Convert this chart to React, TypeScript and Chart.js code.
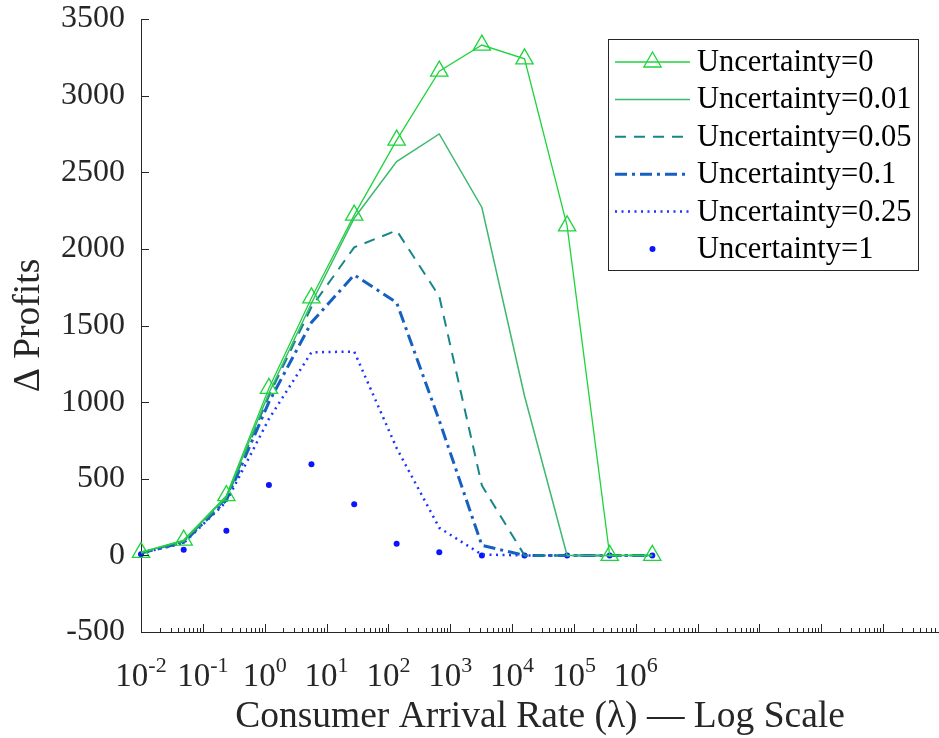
import React, { useEffect, useRef } from 'react';
import { Chart, registerables } from 'chart.js';

Chart.register(...registerables);

// ---- data ----
const lambdaValues = [0.01, 0.049, 0.24, 1.17, 5.7, 28, 136, 665, 3250, 15900, 77600, 379000, 1850000];
const profitsU0 = [20, 100, 390, 1090, 1680, 2220, 2710, 3160, 3330, 3240, 2150, 0, 0];
const profitsU001 = [20, 95, 380, 1060, 1645, 2200, 2570, 2750, 2270, 1040, 0, 0, 0];
const profitsU005 = [15, 90, 370, 1040, 1620, 2010, 2120, 1690, 456, 0, 0, 0, 0];
const profitsU01 = [15, 85, 360, 1000, 1520, 1830, 1650, 880, 65, 0, 0, 0, 0];
const profitsU025 = [15, 80, 350, 890, 1325, 1330, 700, 180, 5, 0, 0, 0, 0];
const profitsU1 = [8, 37, 161, 460, 595, 333, 76, 20, 0, 0, 0, 0, 0];

const seriesLabels = [
  'Uncertainty=0',
  'Uncertainty=0.01',
  'Uncertainty=0.05',
  'Uncertainty=0.1',
  'Uncertainty=0.25',
  'Uncertainty=1',
];
const xTickExponents = [-2, -1, 0, 1, 2, 3, 4, 5, 6];
const yMin = -500;
const yMax = 3500;
const yStep = 500;
const xMin = 0.01;
const xMax = 8e10;
const xTitle = 'Consumer Arrival Rate (\u03bb) \u2014 Log Scale';
const yTitle = '\u0394 Profits';

const SERIF = "'Liberation Serif', 'Times New Roman', serif";
const AXIS_COLOR = '#262626';

const styles = [
  { color: '#1ed43c', width: 1.3, dash: [] as number[], point: 'triangle', radius: 10, showLine: true },
  { color: '#3cb96e', width: 1.5, dash: [], point: false, radius: 0, showLine: true },
  { color: '#17868a', width: 2, dash: [11, 8], point: false, radius: 0, showLine: true },
  { color: '#1560c0', width: 3, dash: [12, 5, 3, 5], point: false, radius: 0, showLine: true },
  { color: '#1a35ff', width: 2.5, dash: [2, 4.5], point: false, radius: 0, showLine: true },
  { color: '#0a14ff', width: 1, dash: [], point: 'circle', radius: 3, showLine: false },
];

const seriesValues = [profitsU0, profitsU001, profitsU005, profitsU01, profitsU025, profitsU1];

const decorPlugin = {
  id: 'decor',
  afterDraw(chart: any) {
    const { ctx, chartArea, scales } = chart;
    const xs = scales.x;
    const ys = scales.y;
    ctx.save();
    // inward tick marks
    ctx.strokeStyle = AXIS_COLOR;
    ctx.lineWidth = 1;
    ctx.setLineDash([]);
    ctx.beginPath();
    ys.ticks.forEach((t: any) => {
      const y = Math.round(ys.getPixelForValue(t.value)) + 0.5;
      ctx.moveTo(chartArea.left, y);
      ctx.lineTo(chartArea.left + 8, y);
    });
    xs.ticks.forEach((t: any) => {
      const x = Math.round(xs.getPixelForValue(t.value)) + 0.5;
      const len = t.major ? 8 : 4;
      ctx.moveTo(x, chartArea.bottom);
      ctx.lineTo(x, chartArea.bottom - len);
    });
    ctx.stroke();

    // x tick labels 10^n
    const baseFont = `33px ${SERIF}`;
    const supFont = `22px ${SERIF}`;
    ctx.fillStyle = AXIS_COLOR;
    ctx.textAlign = 'left';
    ctx.textBaseline = 'alphabetic';
    xTickExponents.forEach((e) => {
      const x = xs.getPixelForValue(Math.pow(10, e));
      ctx.font = baseFont;
      const wb = ctx.measureText('10').width;
      ctx.font = supFont;
      const es = String(e);
      const ws = ctx.measureText(es).width;
      const start = x - (wb + ws) / 2;
      ctx.font = baseFont;
      ctx.fillText('10', start, chartArea.bottom + 54);
      ctx.font = supFont;
      ctx.fillText(es, start + wb, chartArea.bottom + 40);
    });

    // legend
    const bx = chartArea.right - 331;
    const by = 39;
    const bw = 310;
    const bh = 231;
    ctx.fillStyle = '#ffffff';
    ctx.fillRect(bx, by, bw, bh);
    ctx.strokeStyle = AXIS_COLOR;
    ctx.lineWidth = 1;
    ctx.strokeRect(bx + 0.5, by + 0.5, bw, bh);
    chart.data.datasets.forEach((ds: any, i: number) => {
      const st = styles[i];
      const ry = by + 23 + i * 37.4;
      const x0 = bx + 7;
      const x1 = bx + 82;
      const xm = (x0 + x1) / 2;
      if (st.showLine) {
        ctx.save();
        ctx.strokeStyle = st.color;
        ctx.lineWidth = st.width;
        ctx.setLineDash(st.dash);
        ctx.beginPath();
        ctx.moveTo(x0, ry);
        ctx.lineTo(x1, ry);
        ctx.stroke();
        ctx.restore();
      }
      if (st.point === 'triangle') {
        ctx.save();
        ctx.strokeStyle = st.color;
        ctx.lineWidth = 1.3;
        ctx.beginPath();
        const r = st.radius;
        for (let k = 0; k < 3; k++) {
          const a = (k * 2 * Math.PI) / 3;
          const px = xm + Math.sin(a) * r;
          const py = ry - Math.cos(a) * r;
          if (k === 0) ctx.moveTo(px, py);
          else ctx.lineTo(px, py);
        }
        ctx.closePath();
        ctx.stroke();
        ctx.restore();
      } else if (st.point === 'circle') {
        ctx.fillStyle = st.color;
        ctx.beginPath();
        ctx.arc(xm, ry, st.radius, 0, Math.PI * 2);
        ctx.fill();
      }
      ctx.fillStyle = '#000000';
      ctx.font = `30.5px ${SERIF}`;
      ctx.textAlign = 'left';
      ctx.textBaseline = 'middle';
      ctx.fillText(ds.label, bx + 89, ry + 1);
    });
    ctx.restore();
  },
};

export default function App() {
  const canvasRef = useRef<HTMLCanvasElement | null>(null);

  useEffect(() => {
    const canvas = canvasRef.current;
    if (!canvas) return;
    const datasets = seriesValues.map((vals, i) => {
      const st = styles[i];
      return {
        label: seriesLabels[i],
        data: lambdaValues.map((x, j) => ({ x, y: vals[j] })),
        borderColor: st.color,
        backgroundColor: st.point === 'circle' ? st.color : 'rgba(0,0,0,0)',
        borderWidth: st.width,
        borderDash: st.dash,
        showLine: st.showLine,
        pointStyle: st.point || 'circle',
        pointRadius: st.radius,
        pointBorderWidth: st.point === 'triangle' ? 1.3 : 0,
        pointBorderColor: st.color,
        pointBackgroundColor: st.point === 'circle' ? st.color : 'rgba(0,0,0,0)',
        tension: 0,
        clip: false as any,
        fill: false,
      };
    });

    const chart = new Chart(canvas, {
      type: 'line',
      data: { datasets },
      options: {
        responsive: false,
        animation: false,
        layout: { autoPadding: false, padding: { left: 0, right: 0, top: 19, bottom: 0 } },
        plugins: {
          legend: { display: false },
          tooltip: { enabled: false },
        },
        scales: {
          x: {
            type: 'logarithmic',
            min: xMin,
            max: xMax,
            grid: { display: false },
            border: { display: true, color: AXIS_COLOR, width: 1 },
            ticks: { display: false },
            afterBuildTicks: (scale: any) => {
              const ticks: any[] = [];
              for (let e = -2; e <= 11; e++) {
                for (let k = 1; k <= 9; k++) {
                  const v = k * Math.pow(10, e);
                  if (v >= scale.min * 0.999 && v <= scale.max) ticks.push({ value: v, major: k === 1 });
                }
              }
              scale.ticks = ticks;
            },
            afterFit: (scale: any) => {
              scale.height = 106;
              scale.paddingLeft = 0;
              scale.paddingRight = 0;
            },
            title: {
              display: true,
              text: xTitle,
              color: AXIS_COLOR,
              font: { family: SERIF, size: 37.5, lineHeight: 1 },
              padding: { top: 0, bottom: 2 },
            },
          },
          y: {
            type: 'linear',
            min: yMin,
            max: yMax,
            grid: { display: false, drawTicks: false },
            border: { display: true, color: AXIS_COLOR, width: 1 },
            ticks: {
              stepSize: yStep,
              color: AXIS_COLOR,
              padding: 16,
              font: { family: SERIF, size: 32 },
              callback: (v: any) => String(v),
            },
            afterFit: (scale: any) => {
              scale.width = 141;
              scale.paddingTop = 0;
              scale.paddingBottom = 0;
            },
            title: {
              display: true,
              text: yTitle,
              color: AXIS_COLOR,
              font: { family: SERIF, size: 37.5, lineHeight: 1.2 },
              padding: { top: 7, bottom: 0 },
            },
          },
        },
      },
      plugins: [decorPlugin],
    });
    return () => chart.destroy();
  }, []);

  return (
    <div style={{ position: 'fixed', left: 0, top: 0, width: 939, height: 738, background: '#fff' }}>
      <canvas ref={canvasRef} width={939} height={738} style={{ display: 'block' }} />
    </div>
  );
}
